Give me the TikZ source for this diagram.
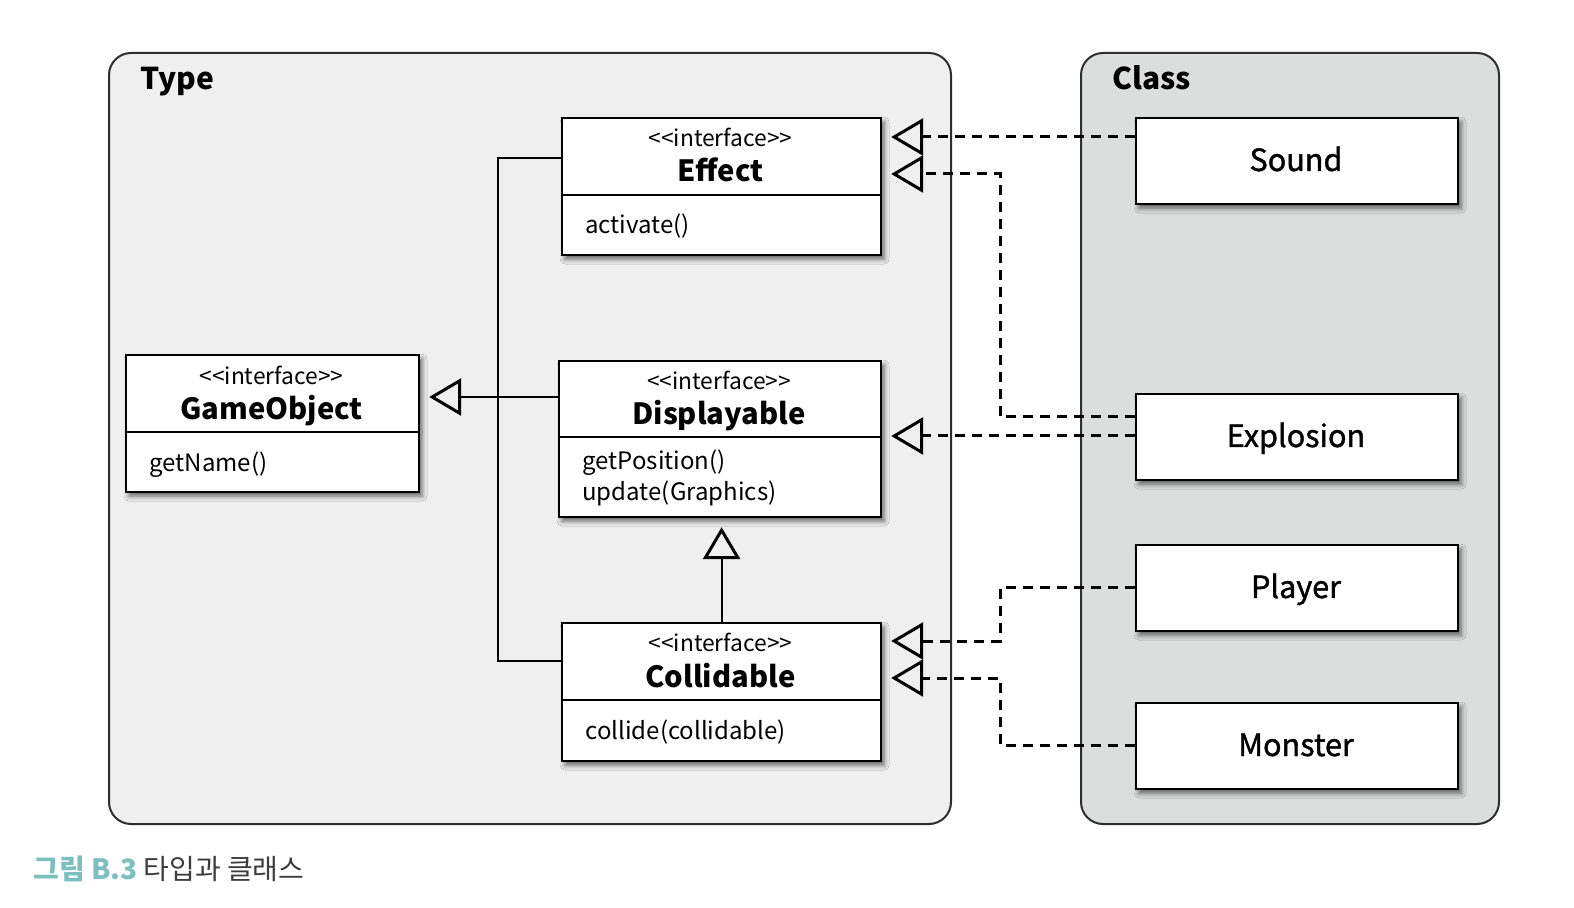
\documentclass[tikz,border=0pt]{standalone}
\usepackage{fontspec}
\setmainfont{Noto Sans CJK KR}
\newfontfamily\clsfamily{Noto Sans CJK KR}[FakeBold=1.3]
\usetikzlibrary{arrows.meta,shadows.blur}
\definecolor{typebg}{HTML}{EFEFEF}
\definecolor{classbg}{HTML}{DCDDDD}
\definecolor{capteal}{HTML}{7BBFC1}
\definecolor{capgray}{HTML}{3C3C3C}
\definecolor{framegray}{HTML}{2E2E2E}
\newcommand\stereotxt{<\kern0pt<interface>\kern0pt>}
\begin{document}
\begin{tikzpicture}[x=0.5pt,y=-0.5pt,
  container/.style={draw=framegray, line width=1pt, rounded corners=11pt},
  umlbox/.style={draw=black, fill=white, line width=1.1pt, inner sep=0pt, anchor=north west,
    blur shadow={shadow xshift=1.5pt, shadow yshift=-2pt, shadow blur radius=2.5pt, shadow opacity=60}},
  divider/.style={line width=1.1pt},
  stereo/.style={font=\fontsize{11.4}{12}\selectfont, inner sep=0pt, anchor=base},
  title/.style={font=\bfseries\fontsize{14.6}{16}\selectfont, inner sep=0pt, anchor=base},
  method/.style={font=\fontsize{12}{13}\selectfont, inner sep=0pt, anchor=base west},
  clsname/.style={font=\clsfamily\fontsize{15.3}{17}\selectfont, inner sep=0pt, anchor=base},
  grouplabel/.style={font=\bfseries\fontsize{15}{17}\selectfont, inner sep=0pt, anchor=base west},
  tree/.style={line width=1.1pt},
  generalization/.style={line width=1.1pt, -{Triangle[open, length=16pt, width=18.5pt, line width=1.5pt]}, shorten >=4.5pt},
  realization/.style={generalization, line width=1.5pt, dash pattern=on 5pt off 3.5pt}
]
\useasboundingbox (0,0) rectangle (1574,908);

% containers
\node[container, fill=typebg, minimum width=421pt, minimum height=385.5pt, anchor=north west, inner sep=0pt] (typebox) at (108,52) {};
\node[container, fill=classbg, minimum width=209pt, minimum height=385.5pt, anchor=north west, inner sep=0pt] (classbox) at (1080,52) {};
\node[grouplabel] (typelbl) at (140,90) {Type};
\node[grouplabel] (classlbl) at (1112,90) {Class};

% interface boxes
\node[umlbox, minimum width=159.5pt, minimum height=68.5pt] (effect) at (561,117) {};
\node[umlbox, minimum width=161pt, minimum height=78pt] (displayable) at (558,360) {};
\node[umlbox, minimum width=159.5pt, minimum height=69pt] (collidable) at (561,622) {};
\node[umlbox, minimum width=146.5pt, minimum height=68.5pt] (gameobject) at (125,354) {};

\draw[divider] (effect.west |- 0,195) -- (effect.east |- 0,195);
\draw[divider] (displayable.west |- 0,437) -- (displayable.east |- 0,437);
\draw[divider] (collidable.west |- 0,700) -- (collidable.east |- 0,700);
\draw[divider] (gameobject.west |- 0,432) -- (gameobject.east |- 0,432);

\node[stereo] (effectst) at (720.5,147) {\stereotxt};
\node[title] (effectti) at (720.5,182) {Effect};
\node[method] (effectm) at (585,234) {activate()};

\node[stereo] (dispst) at (719,390) {\stereotxt};
\node[title] (dispti) at (719,425) {Displayable};
\node[method] (dispm1) at (582,470) {getPosition()};
\node[method] (dispm2) at (582,501) {update(Graphics)};

\node[stereo] (collst) at (720.5,652) {\stereotxt};
\node[title] (collti) at (720.5,687) {Collidable};
\node[method] (collm) at (585,739) {collide(collidable)};

\node[stereo] (gost) at (271.5,385) {\stereotxt};
\node[title] (goti) at (271.5,420) {GameObject};
\node[method] (gom) at (149,472) {getName()};

% class boxes
\node[umlbox, minimum width=161pt, minimum height=43pt] (sound) at (1135,117) {};
\node[umlbox, minimum width=161pt, minimum height=43pt] (explosion) at (1135,393) {};
\node[umlbox, minimum width=161pt, minimum height=43pt] (player) at (1135,544) {};
\node[umlbox, minimum width=161pt, minimum height=43pt] (monster) at (1135,702) {};
\node[clsname] (soundt) at (1296,171) {Sound};
\node[clsname] (explosiont) at (1296,447) {Explosion};
\node[clsname] (playert) at (1296,598) {Player};
\node[clsname] (monstert) at (1296,756) {Monster};

% solid generalization tree
\draw[tree] (effect.west |- 0,158) -- (498,158) -- (498,661) -- (collidable.west |- 0,661);
\draw[generalization] (displayable.west |- 0,397) -- (gameobject.east |- 0,397);
\draw[generalization] (collidable.north) -- (collidable.north |- displayable.south);

% realizations
\draw[realization] (sound.west |- 0,137) -- (effect.east |- 0,137);
\draw[realization] (explosion.west |- 0,417) -- (1000,417) -- (1000,174) -- (effect.east |- 0,174);
\draw[realization] (explosion.west |- 0,436) -- (displayable.east |- 0,436);
\draw[realization] (player.west |- 0,588) -- (1000,588) -- (1000,641) -- (collidable.east |- 0,641);
\draw[realization] (monster.west |- 0,745) -- (1000,745) -- (1000,678) -- (collidable.east |- 0,678);

% caption
\node[inner sep=0pt, anchor=base west, font=\fontsize{14}{16}\selectfont, text=capgray] (caption) at (33,879)
  {{\color{capteal}\bfseries 그림 B.3}\hspace{3pt}타입과 클래스};
\end{tikzpicture}
\end{document}
